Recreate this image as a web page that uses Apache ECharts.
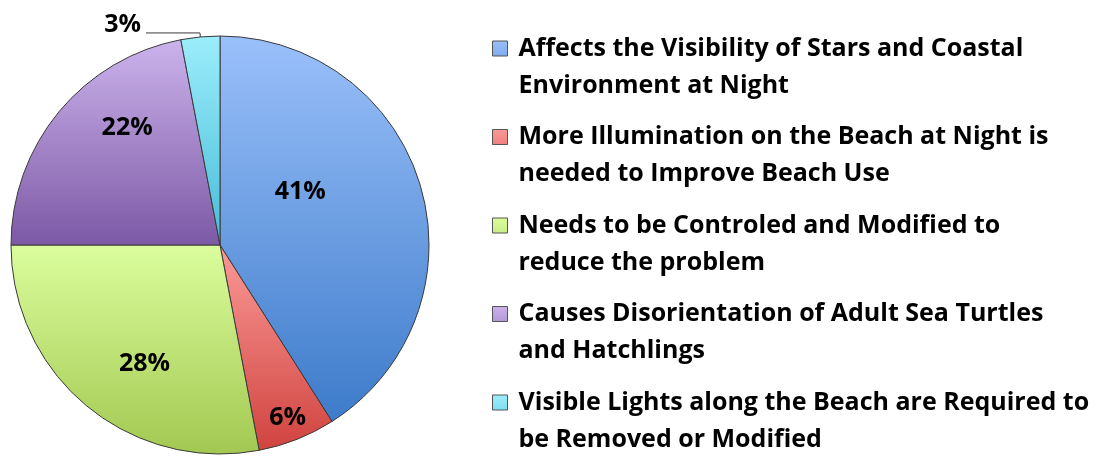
<!DOCTYPE html>
<html>
<head>
<meta charset="utf-8">
<script src="https://cdn.jsdelivr.net/npm/echarts@6/dist/echarts.min.js"></script>
<style>
html, body { margin: 0; padding: 0; background: #fff; }
#main { width: 1103px; height: 456px; }
</style>
</head>
<body>
<div id="main"></div>
<script>
var categories = [
	'Affects the Visibility of Stars and Coastal Environment at Night',
	'More Illumination on the Beach at Night is needed to Improve Beach Use',
	'Needs to be Controled and Modified to reduce the problem',
	'Causes Disorientation of Adult Sea Turtles and Hatchlings',
	'Visible Lights along the Beach are Required to be Removed or Modified'
];
var legendLines = [
	'Affects the Visibility of Stars and Coastal\nEnvironment at Night',
	'More Illumination on the Beach at Night is\nneeded to Improve Beach Use',
	'Needs to be Controled and Modified to\nreduce the problem',
	'Causes Disorientation of Adult Sea Turtles\nand Hatchlings',
	'Visible Lights along the Beach are Required to\nbe Removed or Modified'
];
var values = [41, 6, 28, 22, 3];

// gradient top / bottom per slice
var topColors = ['#9ac0fa', '#fb9a98', '#dbfd9d', '#cbb3ec', '#9cedfb'];
var bottomColors = ['#3d7bca', '#d0433f', '#a3c851', '#7d59a5', '#46bcd8'];
// nudges so labels sit where the original put them
var labelOffsets = [[-23, -23], [28, 73], [-7, 36], [-10, -49], [0, 0]];

function grad(i) {
	return new echarts.graphic.LinearGradient(0, 0, 0, 1, [
		{ offset: 0, color: topColors[i] },
		{ offset: 1, color: bottomColors[i] }
	]);
}

var pieData = [];
var legendData = [];
for (var i = 0; i < categories.length; i++) {
	var item = {
		name: categories[i],
		value: values[i],
		itemStyle: { color: grad(i) }
	};
	if (i === 4) {
		// empty 2nd line lifts the text above the end of the leader line
		item.label = {
			position: 'outside',
			formatter: '{d}%\n ',
			lineHeight: 16
		};
		item.labelLine = { show: true, length: 4, length2: 54 };
	} else {
		item.label = { position: 'inside', offset: labelOffsets[i] };
		item.labelLine = { show: false };
	}
	pieData.push(item);
	legendData.push({
		name: categories[i],
		itemStyle: { color: grad(i), borderColor: '#555', borderWidth: 1 }
	});
}

var myChart = echarts.init(document.getElementById('main'), null, { renderer: 'canvas' });

var option = {
	backgroundColor: '#ffffff',
	animation: false,
	legend: {
		orient: 'vertical',
		left: 492,
		top: 30,
		height: 600,
		padding: 0,
		itemWidth: 21,
		itemHeight: 52,
		itemGap: 14.5,
		// tall box with the square at its top, so the marker sits on the first text line
		icon: 'path://M0,0h15v15h-15zM21,52',
		selectedMode: false,
		data: legendData,
		formatter: function (name) {
			return legendLines[categories.indexOf(name)];
		},
		textStyle: {
			fontFamily: 'Open Sans',
			fontWeight: 'bold',
			fontSize: 25,
			lineHeight: 37,
			color: '#000'
		}
	},
	series: [{
		type: 'pie',
		center: [220, 245],
		radius: 209,
		startAngle: 90,
		clockwise: true,
		avoidLabelOverlap: false,
		itemStyle: {
			borderColor: '#3a3a3a',
			borderWidth: 1
		},
		label: {
			show: true,
			formatter: '{d}%',
			fontFamily: 'Open Sans',
			fontWeight: 'bold',
			fontSize: 25,
			color: '#000'
		},
		labelLine: {
			lineStyle: { color: '#3a3a3a', width: 1 }
		},
		emphasis: { disabled: true },
		data: pieData
	}]
};

myChart.setOption(option);
</script>
</body>
</html>
